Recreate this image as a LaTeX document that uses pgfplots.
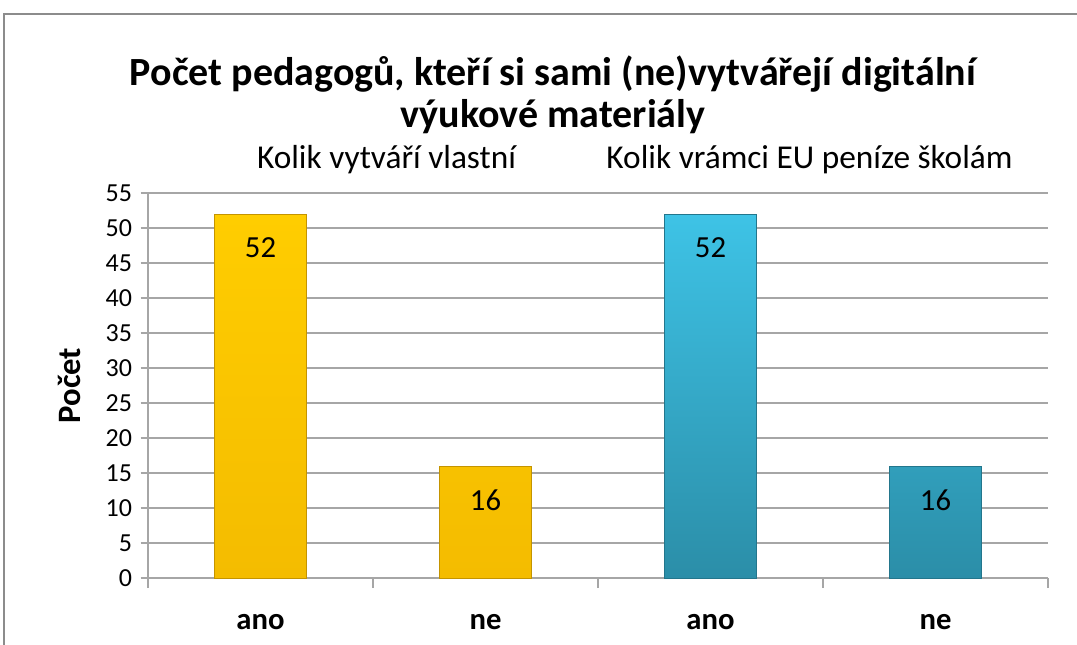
\documentclass[border=0pt]{standalone}
\usepackage{pgfplots}
\pgfplotsset{compat=1.18}
\usepackage{fontspec}
\setmainfont{Carlito}
\definecolor{gridgray}{HTML}{A6A6A6}
\definecolor{framegray}{HTML}{8C8C8C}
\definecolor{ytop}{HTML}{FFCD00}
\definecolor{ybot}{HTML}{F4BC00}
\definecolor{yedge}{HTML}{C49400}
\definecolor{btop}{HTML}{3EC3E6}
\definecolor{bbot}{HTML}{2B8EA8}
\definecolor{bedge}{HTML}{23768C}
\begin{document}
\begin{tikzpicture}
\useasboundingbox (0,0) rectangle (807.75pt,483pt);
\draw[framegray, line width=1.2pt] (3pt,-2pt) -- (3pt,472.5pt) -- (810pt,472.5pt);
\node[font=\fontsize{30}{36}\selectfont\bfseries] at (414.75pt,427.5pt) {Počet pedagogů, kteří si sami (ne)vytvářejí digitální};
\node[font=\fontsize{30}{36}\selectfont\bfseries] at (414.75pt,395.5pt) {výukové materiály};
\begin{axis}[
  at={(111pt,49.5pt)}, anchor=south west,
  scale only axis, width=675pt, height=288.75pt,
  xmin=-0.5, xmax=3.5, ymin=0, ymax=55,
  ytick={0,5,...,55},
  xtick={0,1,2,3},
  xticklabels={ano,ne,ano,ne},
  minor xtick={-0.5,0.5,1.5,2.5,3.5},
  axis x line*=bottom, axis y line*=left,
  axis line style={gridgray, line width=1pt, -},
  tick align=outside,
  major tick length=5.5pt, minor tick length=7.5pt,
  major x tick style={draw=none},
  minor x tick style={gridgray, line width=1pt},
  major y tick style={gridgray, line width=1pt},
  ymajorgrids, grid style={gridgray, line width=0.9pt},
  /pgf/number format/assume math mode=true,
  yticklabel style={font=\fontsize{19.5}{22}\selectfont, xshift=-3pt},
  xticklabel style={font=\fontsize{23}{26}\selectfont\bfseries, yshift=-18pt},
  ylabel={Počet}, ylabel style={font=\fontsize{24.5}{28}\selectfont\bfseries, yshift=11.5pt},
  clip=false,
  nodes near coords,
  every node near coord/.append style={font=\fontsize{23}{26}\selectfont, anchor=north, yshift=-14pt, text=black},
]
\addplot[ybar, bar width=69pt, bar shift=0pt, draw=yedge, line width=0.6pt, top color=ytop, bottom color=ybot] coordinates {(0,52) (1,16)};
\addplot[ybar, bar width=69pt, bar shift=0pt, draw=bedge, line width=0.6pt, top color=btop, bottom color=bbot] coordinates {(2,52) (3,16)};
\node[font=\fontsize{25}{28}\selectfont] at (axis cs:0.56,55) [yshift=24.75pt] {Kolik vytváří vlastní};
\node[font=\fontsize{25}{28}\selectfont] at (axis cs:2.44,55) [yshift=24.75pt] {Kolik vrámci EU peníze školám};
\end{axis}
\end{tikzpicture}
\end{document}
